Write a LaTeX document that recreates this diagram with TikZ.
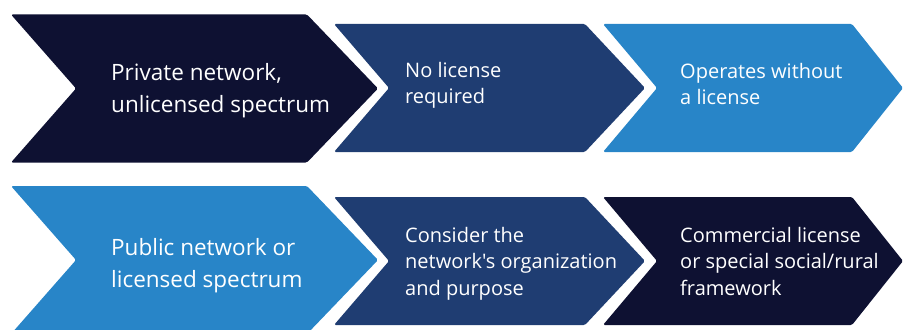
\documentclass[tikz,border=0pt]{standalone}
\usepackage{fontspec}
\setmainfont{Open Sans}[Ligatures=TeXOff]
\begin{document}
\begin{tikzpicture}[x=1pt,y=-1pt,
  chevfill/.style={fill=#1, rounded corners=1.5pt},
  bigtext/.style={anchor=base west, text=white, align=left, inner sep=0pt,
    font=\fontsize{22.5}{31.5}\selectfont},
  smalltext/.style={anchor=base west, text=white, align=left, inner sep=0pt,
    font=\fontsize{20}{26.5}\selectfont}]
\definecolor{navydark}{HTML}{0E1132}
\definecolor{navymid}{HTML}{1F3D72}
\definecolor{skyblue}{HTML}{2885C8}
\useasboundingbox (0,0) rectangle (904,329);
\clip (0,0) rectangle (904,329);
% #1 left x, #2 top y, #3 right x (top corner), #4 bottom y, #5 notch x, #6 tip x, #7 colour
\newcommand{\chevronshape}[7]{%
  \fill[chevfill=#7] (#1,#2) -- (#3,#2) -- (#6,{(#2+#4)/2}) -- (#3,#4)
    -- (#1,#4) -- (#5,{(#2+#4)/2}) -- cycle;}
% upper row
\chevronshape{11}{14.5}{307}{162.5}{76}{378}{navydark}
\chevronshape{334}{24}{585}{152}{389}{645}{navymid}
\chevronshape{603}{24}{852}{152}{657}{903}{skyblue}
% lower row
\chevronshape{11}{186}{307}{334}{76}{378}{skyblue}
\chevronshape{334}{197}{585}{325}{389}{645}{navymid}
\chevronshape{603}{197}{852}{325}{657}{903}{navydark}
% labels, placed by the baseline of their last line
\node[bigtext] (t1) at (111,112) {Private network,\\unlicensed spectrum};
\node[smalltext] (t2) at (405,103.5) {No license\\required};
\node[smalltext] (t3) at (680,104.5) {Operates without\\a license};
\node[bigtext] (t4) at (111,287) {Public network or\\licensed spectrum};
\node[smalltext] (t5) at (405,295) {Consider the\\network's organization\\and purpose};
\node[smalltext] (t6) at (680,295) {Commercial license\\or special social/rural\\framework};
\end{tikzpicture}
\end{document}
